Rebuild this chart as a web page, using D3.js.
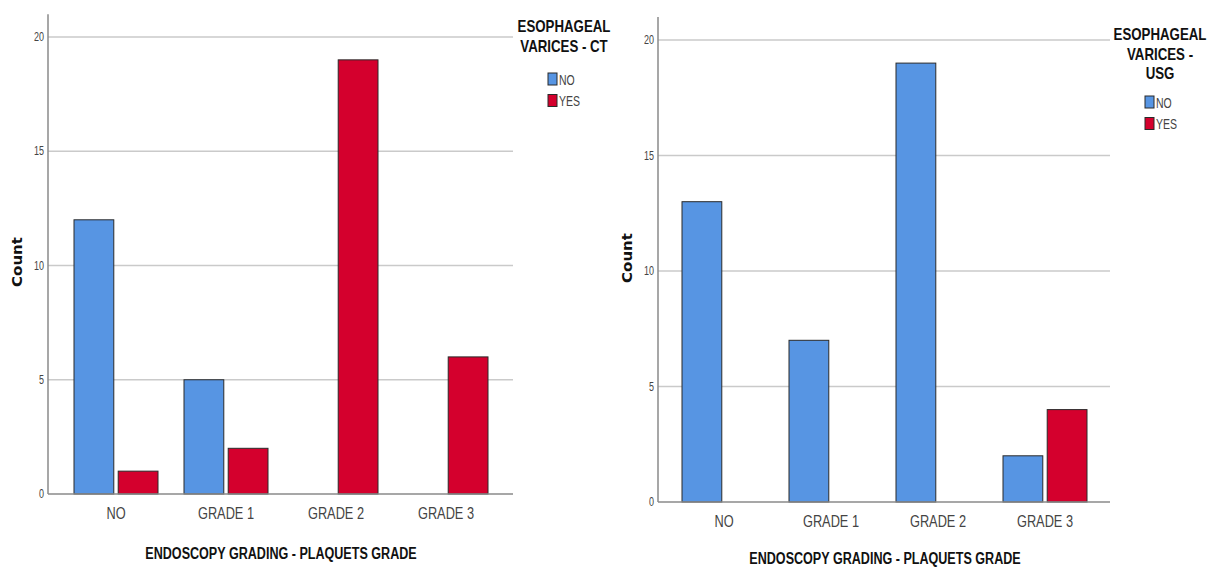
<!DOCTYPE html>
<html><head><meta charset="utf-8">
<script src="https://cdn.jsdelivr.net/npm/d3@7"></script>
<style>body{margin:0;background:#fff}svg{display:block}</style>
</head><body>
<svg id="c" width="1211" height="570"></svg>
<script>
const categories = ["NO", "GRADE 1", "GRADE 2", "GRADE 3"];
const groups = ["NO", "YES"];
const ctNo  = [12, 5, 0, 0];
const ctYes = [1, 2, 19, 6];
const usgNo  = [13, 7, 19, 2];
const usgYes = [0, 0, 0, 4];
const yTicks = [0, 5, 10, 15, 20];
const xTitle = "ENDOSCOPY GRADING - PLAQUETS GRADE";
const yTitle = "Count";
const ctLegendTitle = ["ESOPHAGEAL", "VARICES - CT"];
const usgLegendTitle = ["ESOPHAGEAL", "VARICES -", "USG"];

const colors = {NO: "#5795e3", YES: "#d4002d"};
const SX = 0.8;
const svg = d3.select("#c");

function label(g, x, y, str, o) {
  const t = g.append("g").attr("transform", `translate(${x},${y}) scale(${o.sx ?? SX},1)`)
    .append("text").text(str)
    .attr("font-family", o.family || "'Liberation Sans', Arial, sans-serif")
    .attr("font-size", o.size).attr("font-weight", o.weight || "normal")
    .attr("fill", o.fill || "#222").attr("text-anchor", o.anchor || "middle");
  return t;
}

function chart(cfg) {
  const g = svg.append("g");
  const y = d3.scaleLinear().domain([0, 21]).range([cfg.y0, cfg.yTop]);
  const x0 = d3.scaleBand().domain(categories).range(cfg.xr).padding(0);
  const half = 42;
  const x1 = d3.scaleBand().domain(groups).range([-half, half]).paddingInner(0.1);

  // gridlines
  g.selectAll(".grid").data(yTicks.filter(d => d > 0)).join("line")
    .attr("x1", cfg.axisX).attr("x2", cfg.axisRight)
    .attr("y1", d => y(d)).attr("y2", d => y(d))
    .attr("stroke", "#cacaca").attr("stroke-width", 1.5);

  // bars
  const data = [];
  categories.forEach((c, i) => {
    data.push({c, k: "NO", v: cfg.no[i]});
    data.push({c, k: "YES", v: cfg.yes[i]});
  });
  g.selectAll(".bar").data(data.filter(d => d.v > 0)).join("rect")
    .attr("x", d => x0(d.c) + x0.bandwidth() / 2 + x1(d.k))
    .attr("width", x1.bandwidth())
    .attr("y", d => y(d.v)).attr("height", d => y(0) - y(d.v))
    .attr("fill", d => colors[d.k]).attr("stroke", "#2a2a2a").attr("stroke-width", 1);

  // axes lines
  g.append("line").attr("x1", cfg.axisX).attr("x2", cfg.axisX)
    .attr("y1", y(21)).attr("y2", y(0)).attr("stroke", "#8a8a8a").attr("stroke-width", 1.5);
  g.append("line").attr("x1", cfg.axisX).attr("x2", cfg.axisRight)
    .attr("y1", y(0)).attr("y2", y(0)).attr("stroke", "#8a8a8a").attr("stroke-width", 1.5);

  // tick labels
  yTicks.forEach(t => label(g, cfg.axisX - 4, y(t) + 4, String(t), {size: 12, anchor: "end", fill: "#444", sx: 0.75}));
  categories.forEach(c => label(g, x0(c) + x0.bandwidth() / 2, cfg.catY, c, {size: 16, fill: "#444"}));

  // titles
  label(g, cfg.xTitleX, cfg.xTitleY, xTitle, {size: 17, weight: "bold", fill: "#111", sx: 0.74});
  g.append("g").attr("transform", `translate(${cfg.yTitleX},${cfg.yTitleY}) scale(0.95,1) rotate(-90)`)
    .append("text").text(yTitle).attr("text-anchor", "middle")
    .attr("font-family", "'DejaVu Sans', Verdana, sans-serif").attr("font-weight", "bold")
    .attr("font-size", 15).attr("fill", "#111");

  // legend
  cfg.legendTitle.forEach((l, i) => label(g, cfg.legX, cfg.legY + i * 19.5, l, {size: 16, weight: "bold", fill: "#111", sx: 0.83}));
  groups.forEach((k, i) => {
    const yy = cfg.swY + i * 21.5;
    g.append("rect").attr("x", cfg.swX).attr("y", yy).attr("width", 9).attr("height", 12)
      .attr("fill", colors[k]).attr("stroke", "#2a2a2a").attr("stroke-width", 1);
    label(g, cfg.swX + 11, yy + 11.5, k, {size: 14, anchor: "start", fill: "#444", sx: 0.75});
  });
}

chart({no: ctNo, yes: ctYes, y0: 494, yTop: 37 - (494 - 37) / 20, axisX: 48, axisRight: 513,
  xr: [61, 501], catY: 519, xTitleX: 281, xTitleY: 559, yTitleX: 22, yTitleY: 262,
  legendTitle: ctLegendTitle, legX: 564, legY: 32, swX: 548, swY: 73});
chart({no: usgNo, yes: usgYes, y0: 502, yTop: 40 - (502 - 40) / 20, axisX: 658, axisRight: 1110,
  xr: [670.5, 1098.5], catY: 527, xTitleX: 885, xTitleY: 564, yTitleX: 632, yTitleY: 258,
  legendTitle: usgLegendTitle, legX: 1160, legY: 40, swX: 1145, swY: 96});
</script>
</body></html>
